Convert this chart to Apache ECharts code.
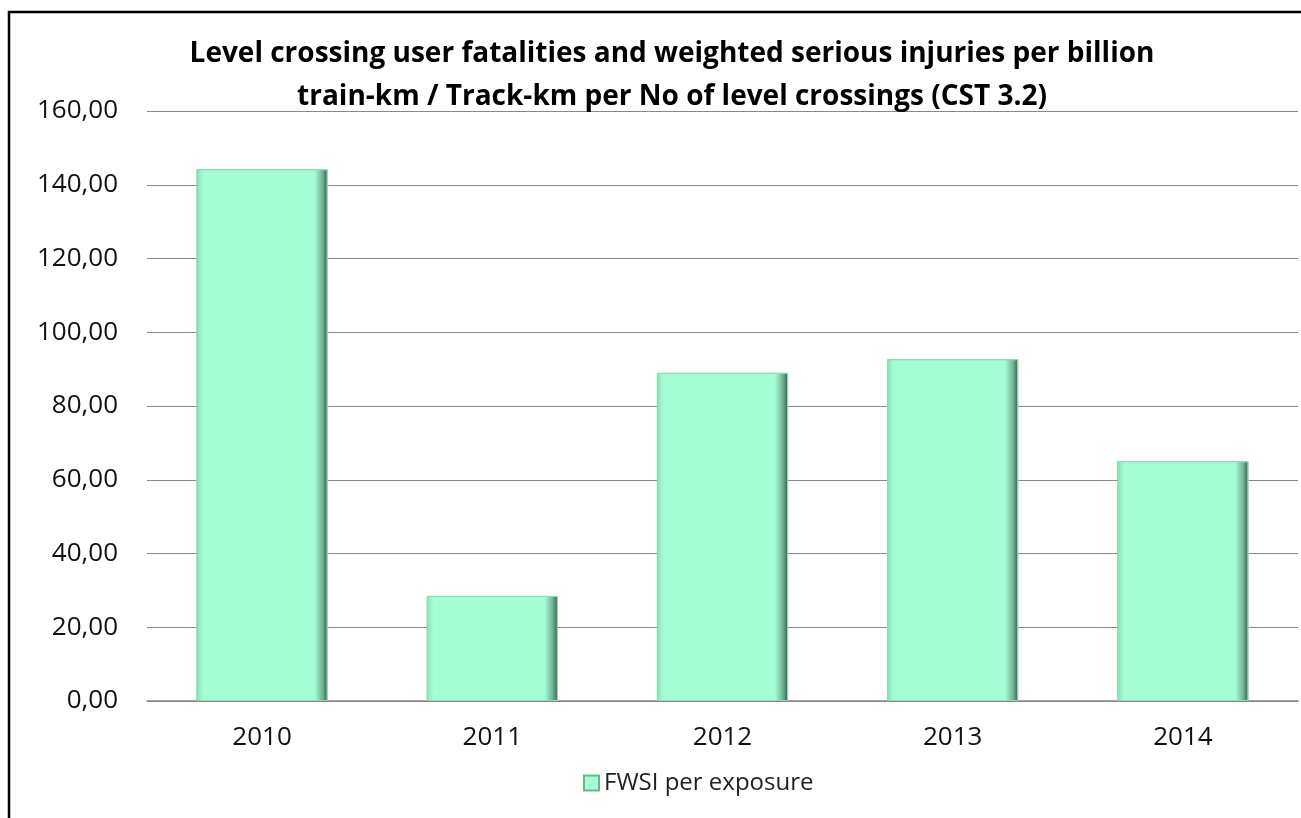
<!DOCTYPE html>
<html>
<head>
<meta charset="utf-8">
<script src="https://cdn.jsdelivr.net/npm/echarts@6/dist/echarts.min.js"></script>
<style>
  html, body { margin: 0; padding: 0; background: #fff; }
  #chart { width: 1301px; height: 818px; }
</style>
</head>
<body>
<div id="chart"></div>
<script>
// data
var years = ["2010", "2011", "2012", "2013", "2014"];
var fwsi = [144.2, 28.5, 89.0, 92.7, 65.0];
var seriesName = "FWSI per exposure";

var chart = echarts.init(document.getElementById("chart"));

// bevel-ish fill: dark edge on the right, lighter on the left
var barFill = {
  type: "linear", x: 0, y: 0, x2: 1, y2: 0,
  colorStops: [
    { offset: 0, color: "#8fdcb8" },
    { offset: 0.05, color: "#a4fdd5" },
    { offset: 0.9, color: "#a4fdd5" },
    { offset: 0.96, color: "#6fb395" },
    { offset: 1, color: "#355c4b" }
  ]
};

var option = {
  backgroundColor: "#fff",
  textStyle: { fontFamily: "Open Sans" },
  title: {
    text: "Level crossing user fatalities and weighted serious injuries per billion\ntrain-km / Track-km per No of level crossings (CST 3.2)",
    left: 667,
    top: 28,
    textAlign: "center",
    textStyle: {
      fontFamily: "Open Sans",
      fontSize: 28,
      fontWeight: "bold",
      color: "#000",
      lineHeight: 43
    }
  },
  legend: {
    bottom: 18,
    left: 578,
    itemWidth: 15,
    itemHeight: 15,
    itemGap: 6,
    textStyle: { fontSize: 24, color: "#222", fontFamily: "Open Sans" },
    data: [{ name: seriesName, icon: "rect", itemStyle: { borderColor: "#6fb395" } }]
  },
  grid: {
    left: 147,
    right: 3,
    top: 111,
    bottom: 117
  },
  xAxis: {
    type: "category",
    data: years,
    axisTick: { show: false },
    axisLine: { lineStyle: { color: "#888", width: 1.5 } },
    axisLabel: { fontSize: 26, color: "#111", margin: 24 }
  },
  yAxis: {
    type: "value",
    min: 0,
    max: 160,
    interval: 20,
    axisLine: { show: false },
    axisTick: { show: false },
    axisLabel: {
      fontSize: 26,
      color: "#111",
      margin: 29,
      formatter: function (v) { return v.toFixed(2).replace(".", ","); }
    },
    splitLine: { lineStyle: { color: "#888", width: 1.2 } }
  },
  series: [
    {
      name: seriesName,
      type: "bar",
      data: fwsi,
      barWidth: "57%",
      itemStyle: {
        color: barFill,
        borderColor: "#8fd9b6",
        borderWidth: 1
      }
    }
  ],
  graphic: [
    {
      type: "rect",
      shape: { x: 9, y: 12, width: 1400, height: 900 },
      style: { fill: "none", stroke: "#000", lineWidth: 2.5 },
      silent: true,
      z: 100
    }
  ]
};

chart.setOption(option);
</script>
</body>
</html>
